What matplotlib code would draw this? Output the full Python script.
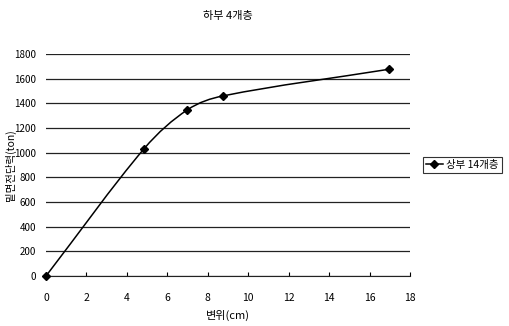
import numpy as np
import matplotlib.pyplot as plt
from matplotlib.path import Path
from matplotlib.patches import PathPatch
from matplotlib.lines import Line2D

plt.rcParams['font.family'] = ['Noto Sans CJK KR', 'DejaVu Sans']

title = '하부 4개층'
series_name = '상부 14개층'
disp = [0, 4.85, 6.98, 8.75, 16.95]          # 변위 (cm)
shear = [0, 1032, 1346, 1460, 1676]          # 밑면전단력 (ton)
xticks = list(range(0, 19, 2))
yticks = list(range(0, 1801, 200))


def smooth_path(xs, ys):
	# cubic bezier through the points, tangents from neighbouring slopes
	x = np.asarray(xs, float)
	y = np.asarray(ys, float)
	n = len(x)
	m = np.zeros(n)
	m[0] = (y[1] - y[0]) / (x[1] - x[0])
	m[-1] = (y[-1] - y[-2]) / (x[-1] - x[-2])
	for i in range(1, n - 1):
		m[i] = (y[i + 1] - y[i - 1]) / (x[i + 1] - x[i - 1])
	verts = [(x[0], y[0])]
	codes = [Path.MOVETO]
	for i in range(n - 1):
		h = (x[i + 1] - x[i]) / 3
		verts += [(x[i] + h, y[i] + m[i] * h), (x[i + 1] - h, y[i + 1] - m[i + 1] * h), (x[i + 1], y[i + 1])]
		codes += [Path.CURVE4] * 3
	return Path(verts, codes)


fig = plt.figure(figsize=(5.09, 3.26), dpi=100)
ax = fig.add_axes([46/509, 1 - 276/326, 364/509, 222/326])

ax.set_xlim(0, 18)
ax.set_ylim(0, 1800)
ax.set_xticks(xticks)
ax.set_yticks(yticks)
ax.grid(axis='y', color='#222222', lw=0.9)
ax.set_axisbelow(True)
for s in ['top', 'right', 'left']:
	ax.spines[s].set_visible(False)
ax.spines['bottom'].set_color('#222222')
ax.tick_params(axis='x', direction='in', length=3, pad=12, labelsize=7.5)
ax.tick_params(axis='y', length=0, pad=7, labelsize=7)

ax.add_patch(PathPatch(smooth_path(disp, shear), fc='none', ec='black', lw=1.1, clip_on=False))
ax.plot(disp, shear, ls='none', marker='D', ms=4.5, color='black', clip_on=False, zorder=3)

ax.set_title(title, fontsize=8, pad=25)
ax.set_xlabel('변위(cm)', fontsize=8, labelpad=5)
ax.set_ylabel('밑면전단력(ton)', fontsize=7.5, va='center')
ax.yaxis.set_label_coords(-36/364, 0.5)

handle = Line2D([], [], color='black', lw=1.1, marker='D', ms=4.5)
leg = fig.legend([handle], [series_name], loc='center left',
	bbox_to_anchor=(423/509, 1 - 165/326), fontsize=7.5, frameon=True,
	fancybox=False, handlelength=1.6, borderpad=0.3, handletextpad=0.3,
	borderaxespad=0)
leg.get_frame().set_edgecolor('black')
leg.get_frame().set_linewidth(0.8)

fig.savefig('out.png', dpi=100)
